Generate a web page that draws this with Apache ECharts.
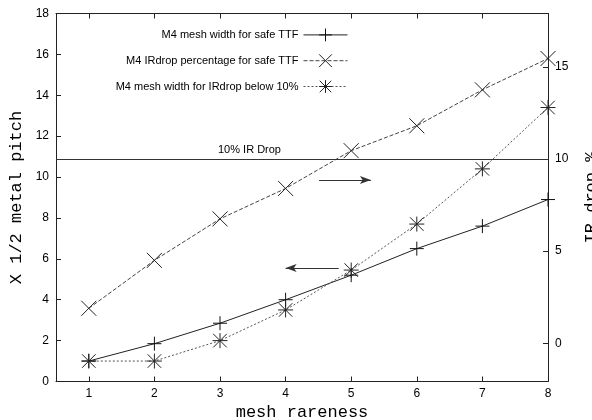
<!DOCTYPE html>
<html>
<head>
<meta charset="utf-8">
<script src="https://cdn.jsdelivr.net/npm/echarts@6/dist/echarts.min.js"></script>
<style>html,body{margin:0;padding:0;background:#fff;}#c{width:592px;height:420px;}</style>
</head>
<body>
<div id="c"></div>
<script>
const meshRareness = [1, 2, 3, 4, 5, 6, 7, 8];
const xTicks = [1, 2, 3, 4, 5, 6, 7, 8];
const leftTicksMax = 18;
const rightTicks = [0, 5, 10, 15];
const meshWidthSafeTTF = [1.0, 1.85, 2.85, 4.0, 5.2, 6.5, 7.6, 8.9];
const irDropSafeTTF = [1.9, 4.5, 6.75, 8.4, 10.45, 11.8, 13.75, 15.45];
const meshWidthIR10 = [1.0, 1.0, 2.0, 3.5, 5.45, 7.7, 10.4, 13.4];
const irLimit = 10;
const arrowRight = [[4.51, 9.85], [5.3, 9.85]];
const arrowLeft = [[4.81, 5.55], [4.0, 5.55]];

const names = ['M4 mesh width for safe TTF', 'M4 IRdrop percentage for safe TTF', 'M4 mesh width for IRdrop below 10%'];
const SYM_PLUS = 'path://M5,0L5,10M0,5L10,5';
const SYM_CROSS = 'path://M0,0L10,10M10,0L0,10';
const SYM_STAR = 'path://M5,0L5,10M0,5L10,5M0.5,0.5L9.5,9.5M9.5,0.5L0.5,9.5';

const pair = (xs, ys) => xs.map((x, i) => [x, ys[i]]);
const font = 'Liberation Sans';
const mono = 'Liberation Mono';

const chart = echarts.init(document.getElementById('c'));
chart.setOption({
  animation: false,
  backgroundColor: '#fff',
  grid: {left: 56, right: 44, top: 13.5, bottom: 38.5, containLabel: false, outerBoundsMode: 'none'},
  legend: {
    orient: 'vertical', align: 'right', right: 239, top: 23,
    itemWidth: 44, itemHeight: 16, itemGap: 12,
    textStyle: {fontFamily: font, fontSize: 11, color: '#000'},
    lineStyle: {width: 1},
    itemStyle: {borderWidth: 1},
    data: names
  },
  xAxis: [{
    type: 'value', min: 0.5, max: 8,
    name: 'mesh rareness', nameLocation: 'middle', nameGap: 15,
    nameTextStyle: {fontFamily: mono, fontSize: 17, color: '#000'},
    axisLine: {show: true, lineStyle: {color: '#222', width: 1}},
    axisTick: {show: true, inside: true, length: 5, customValues: xTicks, lineStyle: {color: '#222'}},
    axisLabel: {customValues: xTicks, fontFamily: font, fontSize: 12, color: '#000', margin: 6},
    splitLine: {show: false}
  }, {
    type: 'value', min: 0.5, max: 8, position: 'top',
    axisLine: {show: true, onZero: false, lineStyle: {color: '#222', width: 1}},
    axisTick: {show: true, inside: true, length: 5, customValues: xTicks, lineStyle: {color: '#222'}},
    axisLabel: {show: false},
    splitLine: {show: false}
  }],
  yAxis: [{
    type: 'value', min: 0, max: leftTicksMax, interval: 2,
    name: 'X 1/2 metal pitch', nameLocation: 'middle', nameGap: 31, nameRotate: 90,
    nameTextStyle: {fontFamily: mono, fontSize: 17, color: '#000'},
    axisLine: {show: true, lineStyle: {color: '#222', width: 1}},
    axisTick: {show: true, inside: true, length: 5, lineStyle: {color: '#222'}},
    axisLabel: {fontFamily: font, fontSize: 12, color: '#000', margin: 7},
    splitLine: {show: false}
  }, {
    type: 'value', min: -2.07, max: 17.89, position: 'right',
    name: 'IR drop %', nameLocation: 'middle', nameGap: 35, nameRotate: 90,
    nameTextStyle: {fontFamily: mono, fontSize: 17, color: '#000'},
    axisLine: {show: true, lineStyle: {color: '#222', width: 1}},
    axisTick: {show: true, inside: true, length: 5, customValues: rightTicks, lineStyle: {color: '#222'}},
    axisLabel: {customValues: rightTicks, fontFamily: font, fontSize: 12, color: '#000', margin: 7},
    splitLine: {show: false}
  }],
  series: [{
    name: names[0], type: 'line', xAxisIndex: 0, yAxisIndex: 0,
    data: pair(meshRareness, meshWidthSafeTTF),
    symbol: SYM_PLUS, symbolSize: 14,
    itemStyle: {color: 'transparent', borderColor: '#111', borderWidth: 1},
    lineStyle: {color: '#222', width: 1, type: 'solid'},
    markLine: {
      silent: true, symbol: ['none', 'arrow'], symbolSize: [6, 11],
      lineStyle: {color: '#333', width: 1, type: 'solid'},
      label: {show: false},
      data: [
        [{coord: arrowRight[0]}, {coord: arrowRight[1]}],
        [{coord: arrowLeft[0]}, {coord: arrowLeft[1]}]
      ]
    }
  }, {
    name: names[1], type: 'line', xAxisIndex: 0, yAxisIndex: 1,
    data: pair(meshRareness, irDropSafeTTF),
    symbol: SYM_CROSS, symbolSize: 15,
    itemStyle: {color: 'transparent', borderColor: '#222', borderWidth: 1},
    lineStyle: {color: '#444', width: 1, type: [4, 2]},
    markLine: {
      silent: true, symbol: ['none', 'none'],
      lineStyle: {color: '#333', width: 1.2, type: 'solid'},
      label: {show: true, position: 'insideStartTop', distance: [162, 3], formatter: '10% IR Drop',
              fontFamily: font, fontSize: 11, color: '#000'},
      data: [{yAxis: irLimit}]
    }
  }, {
    name: names[2], type: 'line', xAxisIndex: 0, yAxisIndex: 0,
    data: pair(meshRareness, meshWidthIR10),
    symbol: SYM_STAR, symbolSize: 15,
    itemStyle: {color: 'transparent', borderColor: '#222', borderWidth: 1},
    lineStyle: {color: '#555', width: 1, type: [2, 2]}
  }]
});
</script>
</body>
</html>
